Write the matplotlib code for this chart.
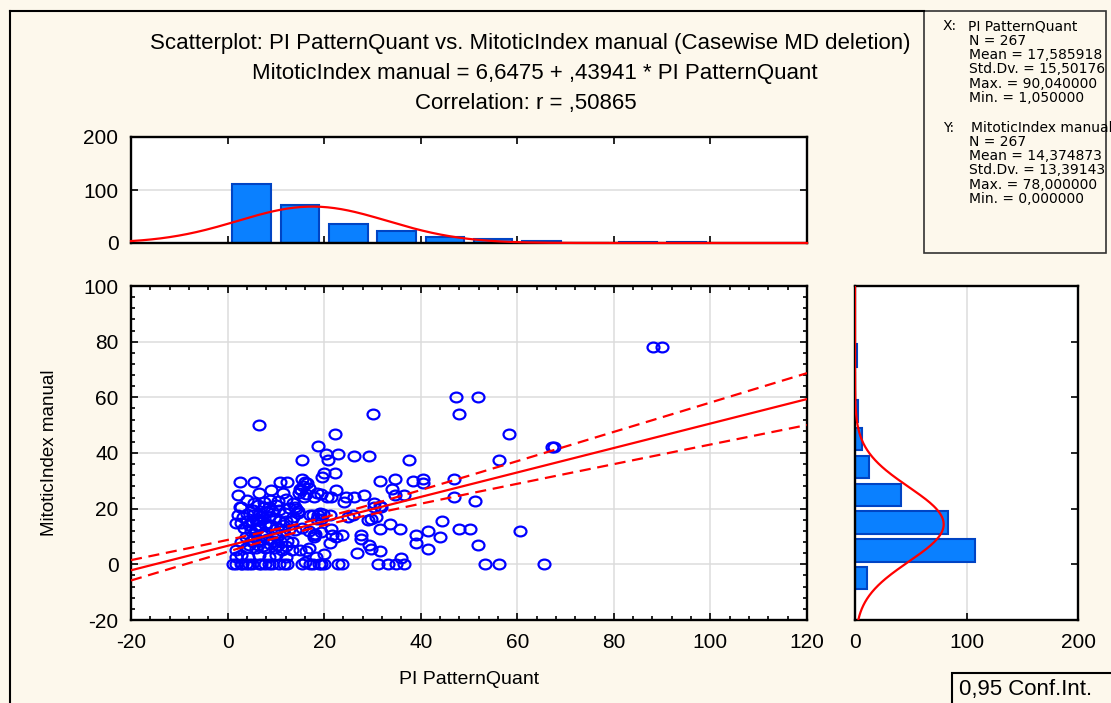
import numpy as np
import matplotlib
matplotlib.use("Agg")
import matplotlib.pyplot as plt
from matplotlib.lines import Line2D
from matplotlib.patches import Rectangle
from matplotlib.markers import MarkerStyle
from matplotlib.transforms import Affine2D
from matplotlib.ticker import MultipleLocator

plt.rcParams['font.family'] = ['Liberation Sans', 'DejaVu Sans']
plt.rcParams['axes.unicode_minus'] = False

# ---- data -------------------------------------------------------------
# PI PatternQuant (x) and MitoticIndex manual (y) per case
pi_quant = [
    88.2, 90.0, 47.4, 51.8, 47.9, 30.2, 58.2, 6.6, 22.3, 18.8, 67.2, 67.5,
    20.4, 22.8, 20.8, 15.4, 26.2, 29.2, 37.5, 56.2, 19.9, 22.3,
    2.6, 5.5, 10.9, 12.4, 16.1, 15.7, 31.6, 34.6, 38.5, 40.5, 40.5, 46.9,
    2.1, 6.6, 9.0, 14.7, 15.2, 15.9, 17.9, 19.3, 20.6, 21.5, 22.4, 24.5, 26.2,
    28.2, 34.1, 34.6, 36.6, 46.9,
    24.2, 30.4, 31.6, 51.3, 2.6, 5.5, 14.0, 14.5, 31.8, 30.4,
    19.3, 21.3, 24.9, 25.9, 29.0, 29.7, 30.7, 17.0, 18.7, 19.2,
    21.4, 19.3, 31.6, 33.7, 35.7,
    21.7, 22.4, 23.8, 27.6, 27.6, 29.3, 29.7,
    39.0, 39.0, 41.5, 41.5, 43.9, 44.4, 47.9, 50.3, 60.6, 51.8,
    21.3, 19.9, 26.8, 31.6, 35.9, 18.3, 16.2,
    19.3, 22.8, 23.8, 31.1, 33.2, 34.9, 36.5, 53.3, 56.2, 65.5, 11.6, 17.6, 16.0,
    17.8, 17.8,
    15.5, 16.5, 16.8, 15.0, 16.2, 18.5, 19.6,
    2.7, 6.2, 7.5, 8.6, 10.0, 10.7, 14.1, 14.5, 17.6, 18.6, 19.7,
    1.7, 2.7, 4.1, 5.1, 5.8, 6.5, 7.5, 8.6, 9.6, 10.7, 12.0, 13.1,
    6.8, 8.2, 9.2, 7.0, 5.2,
    4.8, 5.8, 7.8, 9.8, 11.2, 14.0, 15.4, 16.8, 18.2,
    6.5, 8.5, 3.5, 11.5, 12.8,
    2.7, 4.8, 6.5, 8.2, 9.6, 11.0, 12.4, 13.4,
    5.5, 7.2, 3.8, 10.2,
    1.7, 3.8, 5.8, 7.8, 9.9, 11.2, 13.4, 15.1, 16.8,
    1.7, 2.7, 4.2, 6.5, 8.5, 10.0, 12.0,
    1.7, 2.7, 3.8, 5.1, 6.5, 7.8, 9.2, 10.6, 12.3, 15.4, 17.1, 18.9, 19.9,
    4.5, 7.0, 8.5, 3.0, 1.05,
    6.2, 7.3, 8.8, 4.5, 12.0, 10.5,
    6.0, 7.8, 9.0, 4.5, 10.2,
    5.2, 4.0, 3.2, 2.2, 11.8, 12.8, 13.5,
    7.5, 8.8, 10.5, 12.0, 13.5, 11.5, 4.0,
]
mitotic = [
    78, 78, 60, 60, 54, 54, 47, 50, 46.8, 42.6, 42, 42.2,
    39.8, 39.8, 37.6, 37.6, 39, 39, 37.6, 37.6, 32.7, 32.7,
    29.7, 29.7, 29.7, 29.7, 29.7, 28.3, 29.9, 30.5, 29.8, 30.6, 29.1, 30.6,
    24.9, 25.6, 26.8, 25.6, 26.8, 24.2, 24.2, 25.4, 24.2, 24.2, 26.8, 24.2, 24.2,
    24.8, 27, 24.8, 24.8, 24.2,
    22.3, 22, 20.8, 22.6, 20.6, 22, 20.6, 19.2, 20.6, 20.6,
    16.4, 17.6, 17, 17.6, 15.8, 16.4, 17, 17.6, 17.6, 18.3,
    12.8, 11.6, 12.8, 14.6, 12.8,
    10.4, 9.8, 10.4, 10.4, 9.2, 7.1, 5.6,
    10.4, 7.7, 12, 5.6, 9.8, 15.6, 12.7, 12.7, 12, 7.1,
    7.7, 3.8, 4.1, 4.8, 2.4, 2.6, 4.9,
    0, 0, 0, 0, 0, 0, 0, 0, 0, 0, 0, 0, 0.7,
    9.8, 10.5,
    30.5, 29.2, 27.5, 27, 25.2, 25.8, 31.5,
    20.6, 21.2, 20.6, 20.6, 21.2, 19.4, 20, 18.4, 17.6, 16.4, 18.2,
    15, 15, 15.5, 15.5, 16, 16, 16.5, 17, 16.5, 15.5, 15.5, 15.5,
    18.5, 18.8, 19, 17.5, 17.8,
    12, 12.5, 11.5, 11, 12, 12.5, 13, 12, 11,
    13.5, 13.8, 13, 14, 12.8,
    8, 8.5, 8.5, 9, 8.5, 8, 8.5, 8,
    10, 10.5, 10, 10,
    5.3, 5.8, 5.8, 5.8, 5.8, 5.3, 5, 5.3, 5.8,
    2.6, 3.2, 2.6, 3.2, 2.6, 3.5, 2.8,
    0, 0, 0, 0, 0, 0, 0, 0, 0, 0, 0, 0, 0,
    0, 0, 0, 0, 0,
    7, 6.5, 7.2, 6.8, 6.5, 7,
    14.2, 14.5, 14, 14, 13.2,
    19.5, 18.2, 17, 17.8, 18.5, 20.2, 17,
    22.5, 23.2, 22.8, 23.5, 22, 25.5, 23,
]

# histogram counts, bins of width 10
x_bin_starts = [0, 10, 20, 30, 40, 50, 60, 70, 80, 90]
x_counts = [112, 71, 36, 23, 11, 8, 4, 0, 1, 1]
y_bin_starts = [-10, 0, 10, 20, 30, 40, 50, 60, 70]
y_counts = [11, 108, 83, 41, 13, 6, 3, 0, 2]

# summary statistics
n_cases = 267
x_mean, x_sd = 17.585918, 15.50176
y_mean, y_sd = 14.374873, 13.39143
intercept, slope = 6.6475, 0.43941
r_value = 0.50865

# ---- styling ------------------------------------------------------------
W, H = 1111, 703
BG = '#fdf8ec'
BAR_FACE = '#0a80ff'
BAR_EDGE = '#0044c4'
GRID = '#dcdcdc'
TICK_FS = 15
TITLE_FS = 16


def fx(px):
    return px / W


def fy(py):
    return 1 - py / H


def box(x0, y0, x1, y1):
    return [fx(x0), fy(y1), fx(x1) - fx(x0), fy(y0) - fy(y1)]


def style_axes(ax):
    ax.set_facecolor('white')
    for s in ax.spines.values():
        s.set_linewidth(1.7)
        s.set_color('black')
    ax.tick_params(which='both', direction='in', colors='black',
                   labelsize=TICK_FS, pad=9, width=1.2)
    ax.tick_params(which='major', length=5)
    ax.tick_params(which='minor', length=3)


fig = plt.figure(figsize=(W / 100, H / 100), dpi=100, facecolor=BG)

# outer frame (top + left edges)
fig.add_artist(Line2D([fx(10), fx(924)], [fy(11), fy(11)], color='black', lw=1.5))
fig.add_artist(Line2D([fx(10), fx(10)], [fy(11), fy(703)], color='black', lw=1.5))

# ---- scatter ------------------------------------------------------------
ax = fig.add_axes(box(131, 286, 807, 620))
style_axes(ax)
ax.set_xlim(-20, 120)
ax.set_ylim(-20, 100)
ax.xaxis.set_major_locator(MultipleLocator(20))
ax.yaxis.set_major_locator(MultipleLocator(20))
ax.xaxis.set_minor_locator(MultipleLocator(4))
ax.yaxis.set_minor_locator(MultipleLocator(4))
ax.tick_params(which='both', top=True, right=True)
ax.grid(True, which='major', color=GRID, lw=1.1, zorder=0)
ax.set_axisbelow(True)

ring = MarkerStyle('o', fillstyle='none', transform=Affine2D().scale(1.0, 0.82))
ax.plot(pi_quant, mitotic, linestyle='none', marker=ring, markersize=8.6,
        markeredgecolor='#0000ff', markeredgewidth=1.6, zorder=3)

xs = np.linspace(-20, 120, 300)
fit = intercept + slope * xs
s_res = y_sd * np.sqrt(1 - r_value ** 2) * np.sqrt((n_cases - 1) / (n_cases - 2))
half = 1.969 * s_res * np.sqrt(1 / n_cases + (xs - x_mean) ** 2 / ((n_cases - 1) * x_sd ** 2))
ax.plot(xs, fit, color='#ff0000', lw=1.6, zorder=4)
ax.plot(xs, fit + half, color='#ff0000', lw=1.6, dashes=(5, 3), zorder=4)
ax.plot(xs, fit - half, color='#ff0000', lw=1.6, dashes=(5, 3), zorder=4)

ax.set_xlabel('PI PatternQuant', fontsize=14, labelpad=14)
ax.set_ylabel('MitoticIndex manual', fontsize=13.5, labelpad=18)

# ---- top histogram (x) --------------------------------------------------
axt = fig.add_axes(box(131, 137, 807, 243))
style_axes(axt)
axt.set_xlim(-20, 120)
axt.set_ylim(0, 200)
axt.xaxis.set_major_locator(MultipleLocator(20))
axt.set_yticks([0, 100, 200])
axt.tick_params(which='both', top=True, right=True, labelbottom=False)
axt.grid(True, axis='y', color=GRID, lw=1.1)
axt.set_axisbelow(True)
centers = np.array(x_bin_starts) + 5
axt.bar(centers, x_counts, width=8, color=BAR_FACE, edgecolor=BAR_EDGE, lw=1.5, zorder=2)
axt.plot(xs, n_cases * 10 * np.exp(-0.5 * ((xs - x_mean) / x_sd) ** 2) / (x_sd * np.sqrt(2 * np.pi)),
         color='#ff0000', lw=1.6, zorder=3, clip_on=False)

# ---- right histogram (y) ------------------------------------------------
axr = fig.add_axes(box(855, 286, 1078, 620))
style_axes(axr)
axr.set_ylim(-20, 100)
axr.set_xlim(0, 200)
axr.set_xticks([0, 100, 200])
axr.yaxis.set_major_locator(MultipleLocator(20))
axr.tick_params(axis='y', which='both', left=False, right=True, labelleft=False)
axr.grid(True, axis='x', color=GRID, lw=1.1)
axr.set_axisbelow(True)
ycenters = np.array(y_bin_starts) + 5
axr.barh(ycenters, y_counts, height=8, color=BAR_FACE, edgecolor=BAR_EDGE, lw=1.5, zorder=2)
ys = np.linspace(-20, 100, 300)
axr.plot(n_cases * 10 * np.exp(-0.5 * ((ys - y_mean) / y_sd) ** 2) / (y_sd * np.sqrt(2 * np.pi)), ys,
         color='#ff0000', lw=1.6, zorder=3)

# ---- titles -------------------------------------------------------------
fig.text(fx(530), fy(43), 'Scatterplot: PI PatternQuant vs. MitoticIndex manual (Casewise MD deletion)',
         ha='center', va='center', fontsize=TITLE_FS)
fig.text(fx(535), fy(73), 'MitoticIndex manual = 6,6475 + ,43941 * PI PatternQuant',
         ha='center', va='center', fontsize=TITLE_FS)
fig.text(fx(526), fy(103), 'Correlation: r = ,50865',
         ha='center', va='center', fontsize=TITLE_FS)

# ---- statistics box -----------------------------------------------------
fig.add_artist(Rectangle((fx(924), fy(253)), fx(1106) - fx(924), fy(11) - fy(253),
                         transform=fig.transFigure, facecolor=BG, edgecolor='#333333', lw=1.2))
x_lines = ['N = 267', 'Mean = 17,585918', 'Std.Dv. = 15,50176',
           'Max. = 90,040000', 'Min. = 1,050000']
y_lines = ['N = 267', 'Mean = 14,374873', 'Std.Dv. = 13,39143',
           'Max. = 78,000000', 'Min. = 0,000000']
STAT_FONT = dict(fontsize=10, family='DejaVu Sans', va='center')
fig.text(fx(943), fy(26), 'X:', **STAT_FONT)
fig.text(fx(968), fy(26), 'PI PatternQuant', **STAT_FONT)
for line, py in zip(x_lines, [41, 55, 69, 84, 98]):
    fig.text(fx(969), fy(py), line, **STAT_FONT)
fig.text(fx(943), fy(128), 'Y:', **STAT_FONT)
fig.text(fx(971), fy(128), 'MitoticIndex manual', **STAT_FONT)
for line, py in zip(y_lines, [142, 156.5, 170.5, 185, 199]):
    fig.text(fx(969), fy(py), line, **STAT_FONT)

# confidence legend box
fig.add_artist(Rectangle((fx(952), fy(720)), fx(1120) - fx(952), fy(673) - fy(720),
                         transform=fig.transFigure, facecolor=BG, edgecolor='black', lw=1.5))
fig.text(fx(959), fy(690), '0,95 Conf.Int.', fontsize=16, va='center')

fig.savefig('out.png', dpi=100, facecolor=BG)
